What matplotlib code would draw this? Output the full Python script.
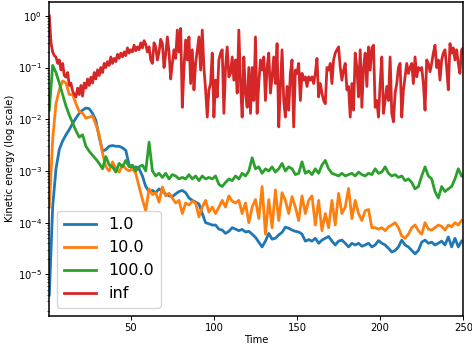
import numpy as np
import matplotlib
matplotlib.use("Agg")
import matplotlib.pyplot as plt

# time axis: every second step for the damped runs, every step for "inf"
time = np.arange(1, 250, 2)
time_inf = np.arange(1, 251)

labels = ["1.0", "10.0", "100.0", "inf"]
colors = ["#1f77b4", "#ff7f0e", "#2ca02c", "#d62728"]

ke_1 = [
    4e-6, 0.0002, 0.0011, 0.0026, 0.0038, 0.005, 0.0063, 0.0083, 0.0105, 0.013,
    0.015, 0.0165, 0.016, 0.013, 0.0095, 0.0045, 0.0024, 0.0026, 0.003, 0.0031,
    0.003, 0.003, 0.0028, 0.0025, 0.0013, 0.0011, 0.0012, 0.0011, 0.0008, 0.0005,
    0.0004, 0.00042, 0.00038, 0.00045, 0.0004, 0.00036, 0.00033, 0.00032, 0.00036, 0.0004,
    0.00042, 0.00038, 0.0003, 0.00027, 0.00025, 0.00023, 0.00015, 0.0001, 0.000095, 0.00009,
    0.00009, 0.000075, 0.000072, 0.000062, 0.000068, 0.00008, 0.000075, 0.00007, 0.000074, 0.000066,
    0.000068, 0.00006, 0.000052, 0.000042, 0.000034, 0.000044, 0.000062, 0.000048, 0.00005, 0.000058,
    0.000065, 0.000082, 0.000078, 0.000072, 0.000068, 0.000066, 0.00006, 0.000044, 0.000047, 0.000044,
    0.00005, 0.00004, 0.000046, 0.00005, 0.000054, 0.000044, 0.000037, 0.000044, 0.000046, 0.00004,
    0.000034, 0.00004, 0.000037, 0.00004, 0.000035, 0.000037, 0.00004, 0.000034, 0.000037, 0.000045,
    0.00004, 0.000037, 0.000032, 0.000027, 0.000029, 0.000034, 0.000046, 0.000037, 0.000034, 0.000029,
    0.000025, 0.000029, 0.000042, 0.000046, 0.00004, 0.000042, 0.000037, 0.00004, 0.000044, 0.000037,
    0.000053, 0.000034, 0.00005, 0.000034, 0.000044,
]

ke_10 = [
    0.0002, 0.004, 0.02, 0.037, 0.055, 0.05, 0.03, 0.03, 0.02, 0.014,
    0.013, 0.0105, 0.011, 0.0115, 0.008, 0.005, 0.0022, 0.0012, 0.001, 0.0015,
    0.0011, 0.00095, 0.0013, 0.0011, 0.001, 0.0011, 0.0009, 0.0005, 0.00028, 0.00017,
    0.00045, 0.00035, 0.00038, 0.00025, 0.00049, 0.00033, 0.00037, 0.0003, 0.00024, 0.00027,
    0.00015, 0.00024, 0.00022, 0.00026, 0.00024, 0.00013, 0.0002, 0.00027, 0.00016, 0.0002,
    0.00015, 0.0002, 0.00027, 0.0002, 0.00033, 0.00026, 0.00024, 0.00027, 0.00015, 0.00024,
    0.0001, 0.0002, 0.00028, 0.00012, 0.0005, 0.00006, 0.00028, 0.00008, 0.00043, 0.00011,
    0.00038, 0.00027, 0.00015, 0.00032, 0.0002, 0.00011, 0.00033, 0.00015, 0.00027, 0.00033,
    0.00009, 0.00027, 0.00007, 0.00015, 0.00008, 0.00027, 0.00009, 0.00037, 0.00015, 0.0002,
    0.00046, 0.00012, 0.00027, 0.00015, 0.00011, 0.00017, 0.00018, 0.00008, 0.00008, 0.000075,
    0.00008, 0.00007, 0.000083, 0.00009, 0.0001, 0.00008, 0.000055, 0.00005, 0.00006, 0.00008,
    0.00009, 0.00007, 0.00006, 0.0001, 0.000075, 0.000072, 0.00008, 0.00009, 0.000085, 0.000072,
    0.00009, 0.000083, 0.0001, 0.00009, 0.00011,
]

ke_100 = [
    0.015, 0.11, 0.08, 0.05, 0.03, 0.018, 0.012, 0.0085, 0.006, 0.0045,
    0.005, 0.003, 0.0024, 0.002, 0.0017, 0.0014, 0.0011, 0.0019, 0.0013, 0.0012,
    0.00095, 0.0014, 0.0012, 0.0016, 0.0012, 0.0013, 0.001, 0.0012, 0.0013, 0.001,
    0.0036, 0.001, 0.0008, 0.0009, 0.00075, 0.0009, 0.0007, 0.00085, 0.0008, 0.0007,
    0.00075, 0.0007, 0.00085, 0.0007, 0.0008, 0.00065, 0.0008, 0.0007, 0.00075, 0.0007,
    0.0008, 0.00055, 0.0005, 0.0006, 0.0007, 0.00065, 0.0008, 0.0007, 0.0009, 0.0008,
    0.001, 0.0018, 0.0011, 0.0012, 0.0009, 0.0011, 0.001, 0.0012, 0.00095, 0.0011,
    0.0014, 0.001, 0.0012, 0.0011, 0.00085, 0.0009, 0.0015, 0.0009, 0.001, 0.00085,
    0.0011, 0.0009, 0.0013, 0.0016, 0.0011, 0.0009, 0.00085, 0.0008, 0.0009, 0.0008,
    0.00085, 0.0009, 0.0008, 0.00095, 0.00085, 0.0008, 0.0009, 0.00085, 0.0011, 0.0009,
    0.00095, 0.0012, 0.0009, 0.0008, 0.00085, 0.00075, 0.0008, 0.00065, 0.0007, 0.0006,
    0.00045, 0.0005, 0.0008, 0.0012, 0.0008, 0.0007, 0.0004, 0.0003, 0.0005, 0.0004,
    0.00045, 0.0005, 0.0007, 0.0011, 0.0008,
]

ke_inf = [
    1.0, 0.3, 0.2, 0.17, 0.16, 0.12, 0.14, 0.09, 0.12, 0.07,
    0.065, 0.08, 0.045, 0.05, 0.035, 0.03, 0.027, 0.04, 0.03, 0.045,
    0.028, 0.05, 0.04, 0.06, 0.045, 0.065, 0.05, 0.08, 0.06, 0.09,
    0.07, 0.1, 0.08, 0.12, 0.1, 0.13, 0.11, 0.16, 0.12, 0.15,
    0.13, 0.18, 0.15, 0.19, 0.16, 0.2, 0.17, 0.24, 0.19, 0.22,
    0.2, 0.27, 0.21, 0.25, 0.22, 0.3, 0.24, 0.33, 0.28, 0.2,
    0.25, 0.14, 0.12, 0.3, 0.25, 0.14, 0.2, 0.35, 0.29, 0.1,
    0.18, 0.39, 0.2, 0.06, 0.12, 0.22, 0.15, 0.53, 0.2, 0.57,
    0.017, 0.1, 0.34, 0.14, 0.39, 0.049, 0.22, 0.037, 0.12, 0.22,
    0.39, 0.089, 0.53, 0.1, 0.037, 0.011, 0.037, 0.049, 0.19, 0.011,
    0.057, 0.027, 0.14, 0.19, 0.22, 0.013, 0.1, 0.25, 0.066, 0.077,
    0.16, 0.057, 0.14, 0.032, 0.53, 0.049, 0.011, 0.16, 0.032, 0.017,
    0.1, 0.013, 0.1, 0.023, 0.39, 0.013, 0.049, 0.14, 0.089, 0.16,
    0.023, 0.1, 0.19, 0.032, 0.066, 0.16, 0.049, 0.29, 0.0071, 0.043,
    0.22, 0.023, 0.011, 0.043, 0.015, 0.077, 0.14, 0.0071, 0.089, 0.077,
    0.12, 0.023, 0.077, 0.057, 0.066, 0.043, 0.066, 0.057, 0.066, 0.049,
    0.077, 0.15, 0.027, 0.049, 0.032, 0.023, 0.02, 0.1, 0.089, 0.12,
    0.049, 0.14, 0.19, 0.22, 0.25, 0.1, 0.057, 0.089, 0.12, 0.037,
    0.043, 0.011, 0.049, 0.015, 0.19, 0.1, 0.027, 0.22, 0.017, 0.1,
    0.19, 0.043, 0.25, 0.089, 0.24, 0.27, 0.017, 0.023, 0.011, 0.049,
    0.16, 0.013, 0.023, 0.043, 0.023, 0.16, 0.013, 0.0089, 0.032, 0.049,
    0.1, 0.12, 0.011, 0.037, 0.066, 0.12, 0.077, 0.1, 0.12, 0.049,
    0.16, 0.066, 0.1, 0.089, 0.1, 0.049, 0.015, 0.14, 0.12, 0.083,
    0.12, 0.19, 0.27, 0.1, 0.14, 0.057, 0.14, 0.19, 0.22, 0.1,
    0.037, 0.29, 0.19, 0.24, 0.14, 0.22, 0.12, 0.077, 0.22, 0.24,
]

series = [(time, ke_1), (time, ke_10), (time, ke_100), (time_inf, ke_inf)]

fig = plt.figure(figsize=(4.72, 3.46), dpi=100)
ax = fig.add_axes([0.1045, 0.088, 0.877, 0.907])

for (t, vals), lab, col in zip(series, labels, colors):
    ax.plot(t, vals, color=col, linewidth=2, label=lab)

ax.set_yscale("log")
ax.set_xlim(1, 250)
ax.set_ylim(1.6e-6, 1.87)
ax.set_xticks([50, 100, 150, 200, 250])
ax.set_yticks([1e-5, 1e-4, 1e-3, 1e-2, 1e-1, 1e0])

ax.set_xlabel("Time", fontsize=7.2, labelpad=2)
ax.set_ylabel("Kinetic energy (log scale)", fontsize=7.2, labelpad=2)
ax.tick_params(axis="both", which="major", labelsize=7.2, length=2.6, width=0.7, pad=2.5)
ax.tick_params(axis="both", which="minor", length=1.5, width=0.5)
for sp in ax.spines.values():
    sp.set_linewidth(1.1)

ax.legend(loc="lower left", fontsize=11.5)

fig.savefig("out.png", dpi=100)
